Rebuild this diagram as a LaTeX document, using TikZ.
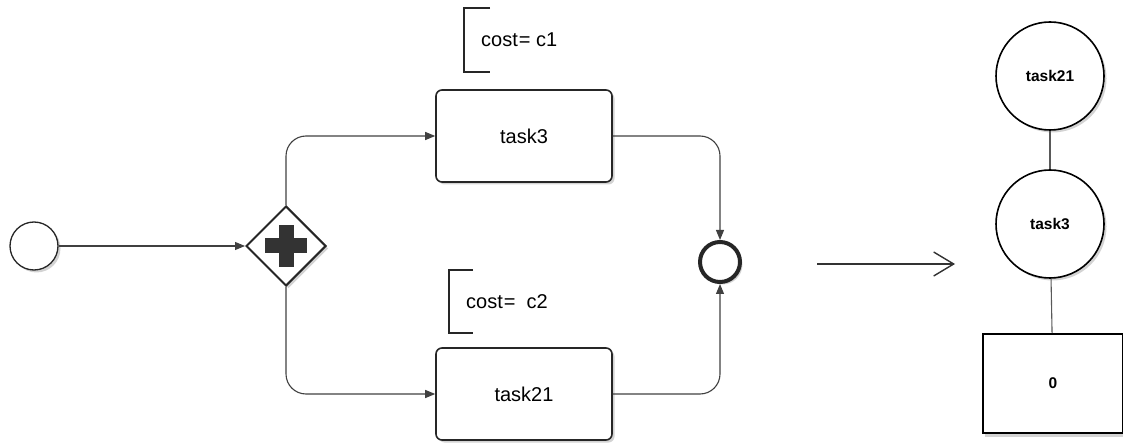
\documentclass[tikz,border=0pt]{standalone}
\usepackage{fontspec}
\setmainfont{Liberation Sans}
\usetikzlibrary{arrows.meta,shadows,shapes.geometric}

\tikzset{
  flow/.style={draw=black!75, line width=1.1pt, rounded corners=20pt,
    -{Triangle[length=10pt,width=8pt]}},
  sh/.style={drop shadow={shadow xshift=2.5pt, shadow yshift=-2.5pt, opacity=0.35}},
  taskbox/.style={draw=black!85, line width=1.6pt, fill=white, rounded corners=6pt,
    minimum width=176pt, minimum height=92pt, inner sep=0pt, sh,
    font=\fontsize{20}{24}\selectfont},
  note/.style={anchor=west, inner sep=0pt, font=\fontsize{20}{24}\selectfont},
  bracket/.style={draw=black!85, line width=1.2pt},
  treenode/.style={circle, draw=black, line width=1.6pt, fill=white,
    minimum size=108pt, inner sep=0pt, sh,
    font=\bfseries\fontsize{15.5}{18}\selectfont},
  treeedge/.style={draw=black!65, line width=1.1pt}
}

\begin{document}
\begin{tikzpicture}[x=1pt, y=-1pt]
  \useasboundingbox (0,0) rectangle (1123,443);

  % events and gateway
  \node[circle, draw=black!85, line width=1.3pt, fill=white, minimum size=48pt,
        inner sep=0pt, sh] (start) at (34,246) {};
  \node[diamond, draw=black!85, line width=2pt, fill=white, minimum size=80pt,
        inner sep=0pt, sh] (gw) at (286,246) {};
  \fill[black!80] (286-7.5,246-21) rectangle (286+7.5,246+21);
  \fill[black!80] (286-21,246-7.5) rectangle (286+21,246+7.5);
  \node[circle, draw=black!85, line width=4pt, fill=white, minimum size=40pt,
        inner sep=0pt, sh] (end) at (720,262) {};

  % tasks
  \node[taskbox] (t3) at (524,136) {task3};
  \node[taskbox] (t21) at (524,394) {task21};

  % annotations
  \draw[bracket] (490,8) -- (464,8) -- (464,72) -- (490,72);
  \node[note] (n1) at (481,40) {cost\kern1pt= c1};
  \draw[bracket] (473,270) -- (449,270) -- (449,333) -- (473,333);
  \node[note] (n2) at (466,302) {cost\kern1pt=\ \ c2};

  % sequence flows
  \draw[flow] (start) -- (gw.west);
  \draw[flow] (gw.north) |- (t3.west);
  \draw[flow] (gw.south) |- (t21.west);
  \draw[flow] (t3.east) -| (end.north);
  \draw[flow] (t21.east) -| (end.south);

  % transformation arrow
  \coordinate (a1) at (817,264);
  \coordinate (a2) at (955,264);
  \draw[draw=black!80, line width=1.4pt, -{Straight Barb[length=20pt,width=24pt]}] (a1) -- (a2);

  % resulting tree
  \node[treenode] (r21) at (1050,76) {task21};
  \node[treenode] (r3) at (1050,224) {task3};
  \node[draw=black, line width=1.6pt, fill=white, minimum width=140pt, minimum height=99pt,
        inner sep=0pt, font=\bfseries\fontsize{15.5}{18}\selectfont,
        drop shadow={shadow xshift=1.5pt, shadow yshift=-3.5pt, opacity=0.35}]
        (leaf) at (1053,383.5) {0};
  \draw[treeedge] (r21) -- (r3);
  \draw[treeedge] (r3) -- (leaf);
\end{tikzpicture}
\end{document}
